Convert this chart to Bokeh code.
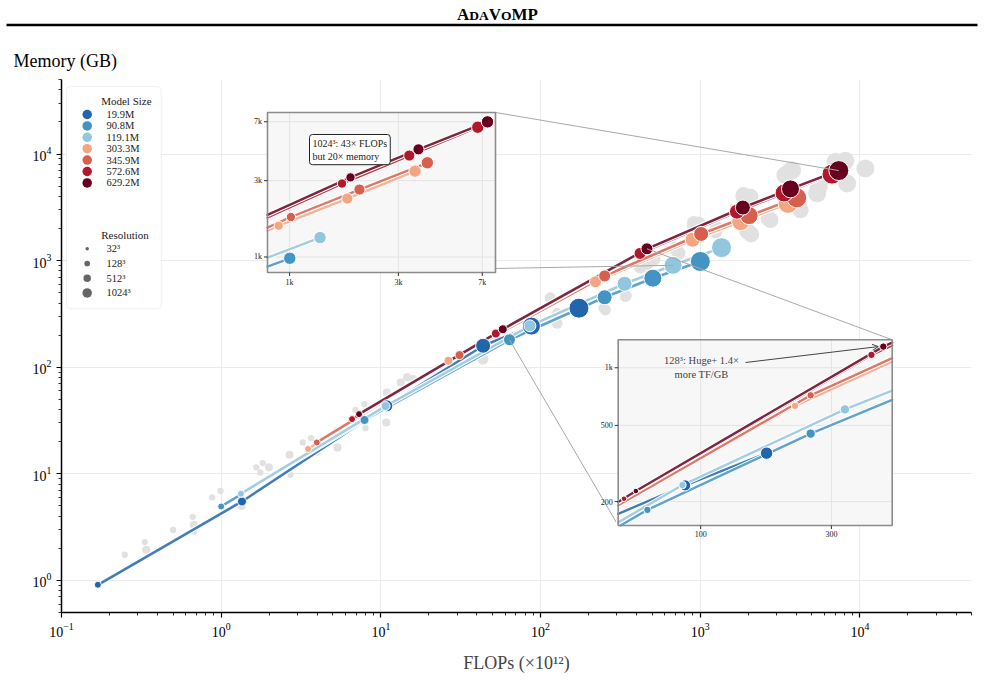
import math
from bokeh.plotting import figure
from bokeh.layouts import column
from bokeh.models import Range1d, LogScale, LinearScale, BoxAnnotation, Label, Arrow, OpenHead
from bokeh.core.properties import value
from bokeh.embed import file_html
from bokeh.resources import INLINE

# ---------------- data ----------------
model_sizes = ["19.9M", "90.8M", "119.1M", "303.3M", "345.9M", "572.6M", "629.2M"]
resolutions = [32, 64, 128, 256, 512, 1024]

flops_19_9M = [0.169, 1.35, 10.9, 43.7, 87.7, 174]
mem_19_9M = [0.91, 5.5, 43.4, 159, 243, 358]
flops_90_8M = [1.0, 7.9, 63.9, 252, 505, 1002]
mem_90_8M = [4.94, 32, 181, 453, 684, 982]
flops_119_1M = [1.33, 10.7, 85.8, 336, 676, 1360]
mem_119_1M = [6.5, 43.2, 244, 606, 903, 1322]
flops_303_3M = [3.5, 26.5, 221, 896, 1792, 3550]
mem_303_3M = [17.1, 115, 633, 1570, 2320, 3443]
flops_345_9M = [3.97, 31.1, 252, 1013, 2025, 4020]
mem_345_9M = [19.7, 130, 718, 1778, 2640, 3880]
flops_572_6M = [6.6, 52.5, 420, 1698, 3350, 6690]
mem_572_6M = [32.6, 207, 1168, 2878, 4306, 6475]
flops_629_2M = [7.3, 58, 464, 1850, 3676, 7380]
mem_629_2M = [36.3, 227, 1290, 3145, 4707, 6990]

# background (other configurations), drawn in light grey
other_flops = [0.249, 0.332, 0.339, 0.50, 0.664, 0.674, 0.674, 0.878, 0.99, 1.34,
               1.66, 1.82, 1.99, 1.76, 2.68, 2.72, 3.24, 3.66, 3.99, 5.35,
               5.27, 6.93, 7.89, 8.01, 10.8, 10.9, 13.3, 14.6, 16.0, 43.7,
               115, 127, 127, 249, 345, 255, 340, 422, 465, 511,
               700, 733, 910, 979, 910, 1276, 1245, 1968, 2084, 1871,
               1871, 2063, 2752, 2684, 4140, 4250, 3415, 3760, 3707, 5400,
               5530, 7030, 8110, 8320, 10820]
other_mem = [1.74, 2.29, 1.94, 2.97, 3.95, 3.33, 2.88, 6.0, 6.9, 5.0,
             11.5, 12.6, 11.5, 10.3, 15.1, 9.8, 19.7, 21.6, 15.8, 17.6,
             25.8, 39.8, 45.0, 26.8, 30.3, 57.8, 71.8, 80.5, 77.3, 119,
             450, 321, 258, 357, 469, 344, 459, 877, 944, 1028,
             1303, 1170, 2265, 2240, 2080, 2010, 1866, 1905, 1762, 4120,
             3970, 3970, 2404, 2490, 3200, 2970, 6340, 7060, 6970, 4275,
             4930, 8450, 8630, 5300, 7330]
other_res = [32, 32, 64, 32, 32, 64, 32, 32, 32, 64,
             32, 32, 64, 32, 64, 32, 32, 32, 32, 64,
             32, 32, 32, 32, 64, 64, 64, 64, 64, 128,
             128, 128, 128, 128, 128, 128, 128, 256, 256, 256,
             256, 256, 256, 256, 256, 256, 256, 512, 512, 512,
             512, 512, 512, 512, 512, 512, 1024, 1024, 1024, 1024,
             1024, 1024, 1024, 1024, 1024]

legend_res = [32, 128, 512, 1024]
legend_res_labels = ["32³", "128³", "512³", "1024³"]

inset1_xticks = [1000, 3000, 7000]
inset1_xlabels = ["1k", "3k", "7k"]
inset1_yticks = [1000, 3000, 7000]
inset1_ylabels = ["1k", "3k", "7k"]
inset2_xticks = [100, 300]
inset2_xlabels = ["100", "300"]
inset2_yticks = [200, 500, 1000]
inset2_ylabels = ["200", "500", "1k"]

title_pieces = ["A", "DA", "V", "O", "MP"]      # small-caps rendering of "AdaVoMP"
y_title = "Memory (GB)"
x_title = "FLOPs (×10¹²)"
inset1_note = "1024³: 43× FLOPs\nbut 20× memory"
inset2_note = "128³: Huge+ 1.4×\nmore TF/GB"

# ---------------- style / layout ----------------
FONT = "Liberation Serif"
COLORS = ["#2166ac", "#4393c3", "#92c5de", "#f4a582", "#d6604d", "#b2182b", "#67001f"]
SIZE_MAIN = {32: 7, 64: 9, 128: 12, 256: 15, 512: 18, 1024: 20}
GREY_SCALE = 0.9
INSET_SCALE = 0.62
LEGEND_RES_SIZE = {32: 3.5, 128: 5.7, 512: 7.5, 1024: 9.5}

W, H = 985, 695
HEADER_H = 79
FL, FT, FW, FH = 61, 79, 910, 533          # frame in page pixels
MAIN_H = H - HEADER_H
X_LIM = (0.1, 5e4)
Y_LIM = (0.5, 5e4)
INSET1_BOX = (267, 112, 495, 272)           # left, top, right, bottom (page px)
INSET1_LIM = ((800, 8000), (800, 8000))
INSET2_BOX = (617.7, 339.3, 891.7, 525)
INSET2_LIM = ((50, 500), (150, 1400))

flops = [flops_19_9M, flops_90_8M, flops_119_1M, flops_303_3M, flops_345_9M, flops_572_6M, flops_629_2M]
mems = [mem_19_9M, mem_90_8M, mem_119_1M, mem_303_3M, mem_345_9M, mem_572_6M, mem_629_2M]

# ---------------- header figure ----------------
h = figure(width=W, height=HEADER_H, x_range=Range1d(0, W), y_range=Range1d(HEADER_H, 0),
           min_border=0, min_border_left=0, min_border_right=0, min_border_top=0, min_border_bottom=0,
           x_axis_location=None, y_axis_location=None,
           output_backend="svg", toolbar_location=None)
h.grid.visible = False
h.outline_line_color = None
big, small = 17, 13.5
TITLE_BASE = 19.5
sizes = [big, small, big, small, big]
adv = {"A": 0.722, "D": 0.722, "V": 0.722, "O": 0.778, "M": 0.944, "P": 0.611}
widths = [sum(adv[c] for c in t) * s for t, s in zip(title_pieces, sizes)]
xpos = 497 - sum(widths) / 2
for t, s, w in zip(title_pieces, sizes, widths):
    h.text(x=[xpos], y=[TITLE_BASE - 0.3 * s], text=[t], text_font=value(FONT), text_font_size=f"{s}px",
           text_font_style="bold", text_baseline="middle", text_align="left", text_color="black")
    xpos += w
h.segment(x0=[6], y0=[24.6], x1=[977], y1=[24.6], line_color="black", line_width=2.5)
h.text(x=[13], y=[60], text=[y_title], text_font=value(FONT), text_font_size="18px",
       text_baseline="middle", text_align="left", text_color="black")

# ---------------- main figure ----------------
p = figure(width=W, height=MAIN_H, x_axis_type="log", y_axis_type="log",
           x_range=Range1d(*X_LIM), y_range=Range1d(*Y_LIM),
           min_border_left=FL, min_border_right=W - FL - FW, min_border_top=0,
           min_border_bottom=MAIN_H - FH, output_backend="svg", toolbar_location=None)
for fig in (h, p):
    try:
        fig.frame_align = False
    except Exception:
        pass
p.outline_line_color = None
p.grid.grid_line_color = "#ebebeb"
p.grid.grid_line_width = 1
for ax in (p.xaxis, p.yaxis):
    ax.axis_line_width = 1.5
    ax.axis_line_color = "black"
    ax.major_tick_line_width = 1.2
    ax.minor_tick_line_width = 0.8
    ax.major_tick_out = 5
    ax.major_tick_in = 0
    ax.minor_tick_out = 3
    ax.minor_tick_in = 0
    ax.major_label_text_font = FONT
    ax.major_label_text_font_size = "14px"
    ax.major_label_text_color = "black"
p.xaxis.axis_label = x_title
p.xaxis.axis_label_text_font = FONT
p.xaxis.axis_label_text_font_size = "18px"
p.xaxis.axis_label_text_font_style = "normal"
p.xaxis.axis_label_standoff = 13

# pixel coordinate system relative to the frame's top-left (x right, y down)
p.extra_x_ranges["px"] = Range1d(0, FW)
p.extra_x_scales["px"] = LinearScale()
p.extra_y_ranges["px"] = Range1d(FH, 0)
p.extra_y_scales["px"] = LinearScale()
PX = dict(x_range_name="px", y_range_name="px")


def page_to_main(px, py):
    lx0, lx1 = math.log10(X_LIM[0]), math.log10(X_LIM[1])
    ly0, ly1 = math.log10(Y_LIM[0]), math.log10(Y_LIM[1])
    return (10 ** (lx0 + (px - FL) / FW * (lx1 - lx0)),
            10 ** (ly0 + (FT + FH - py) / FH * (ly1 - ly0)))


def make_inset(name, box, lims):
    l, t, r, b = box
    (xa, xb), (ya, yb) = lims
    u0, u1 = l - FL, r - FL
    w0, w1 = FT + FH - b, FT + FH - t
    lx0, lx1 = math.log10(xa), math.log10(xb)
    ly0, ly1 = math.log10(ya), math.log10(yb)
    kx = (lx1 - lx0) / (u1 - u0)
    ky = (ly1 - ly0) / (w1 - w0)
    p.extra_x_ranges[name + "x"] = Range1d(10 ** (lx0 - u0 * kx), 10 ** (lx1 + (FW - u1) * kx))
    p.extra_x_scales[name + "x"] = LogScale()
    p.extra_y_ranges[name + "y"] = Range1d(10 ** (ly0 - w0 * ky), 10 ** (ly1 + (FH - w1) * ky))
    p.extra_y_scales[name + "y"] = LogScale()

    def to_px(xv, yv):
        X = u0 + (math.log10(xv) - lx0) / kx
        Y = FH - (w0 + (math.log10(yv) - ly0) / ky)
        return X, Y
    return dict(xr=name + "x", yr=name + "y", xlim=(xa, xb), ylim=(ya, yb), to_px=to_px, box=box)


def clip_poly(xs, ys, xlim, ylim):
    lx = [math.log10(v) for v in xs]
    ly = [math.log10(v) for v in ys]
    x0, x1 = math.log10(xlim[0]), math.log10(xlim[1])
    y0, y1 = math.log10(ylim[0]), math.log10(ylim[1])
    sx, sy = [], []
    for i in range(len(xs) - 1):
        ax_, ay_, bx_, by_ = lx[i], ly[i], lx[i + 1], ly[i + 1]
        dx, dy = bx_ - ax_, by_ - ay_
        t0, t1, ok = 0.0, 1.0, True
        for pp, qq in ((-dx, ax_ - x0), (dx, x1 - ax_), (-dy, ay_ - y0), (dy, y1 - ay_)):
            if pp == 0:
                if qq < 0:
                    ok = False
                    break
            else:
                rr = qq / pp
                if pp < 0:
                    t0 = max(t0, rr)
                else:
                    t1 = min(t1, rr)
        if ok and t0 < t1:
            sx.append([10 ** (ax_ + t0 * dx), 10 ** (ax_ + t1 * dx)])
            sy.append([10 ** (ay_ + t0 * dy), 10 ** (ay_ + t1 * dy)])
    return sx, sy


# background points
p.scatter(other_flops, other_mem, size=[SIZE_MAIN[r] * GREY_SCALE for r in other_res],
          fill_color="#e1e1e1", line_color=None)

# series lines then points
for fx, my, col in zip(flops, mems, COLORS):
    p.line(fx, my, line_color="white", line_width=4.8, line_join="round", line_cap="round")
    p.line(fx, my, line_color=col, line_width=2.6, line_alpha=0.85, line_join="round", line_cap="round")
for fx, my, col in zip(flops, mems, COLORS):
    p.scatter(fx, my, size=[SIZE_MAIN[r] for r in resolutions], fill_color=col,
              line_color="white", line_width=1)

in1 = make_inset("in1", INSET1_BOX, INSET1_LIM)
in2 = make_inset("in2", INSET2_BOX, INSET2_LIM)

# connectors (from inset corners to highlighted points)
i512, i1024, i128 = resolutions.index(512), resolutions.index(1024), resolutions.index(128)
c_pts = [
    (page_to_main(INSET1_BOX[2], INSET1_BOX[1]), (flops_629_2M[i1024], mem_629_2M[i1024])),
    (page_to_main(INSET1_BOX[0], INSET1_BOX[3]), (flops_119_1M[i512], mem_119_1M[i512])),
    (page_to_main(INSET2_BOX[0], INSET2_BOX[3]), (flops_90_8M[i128], mem_90_8M[i128])),
    (page_to_main(INSET2_BOX[2], INSET2_BOX[1]), (flops_629_2M[i128], mem_629_2M[i128])),
]
p.segment(x0=[a[0] for a, b in c_pts], y0=[a[1] for a, b in c_pts],
          x1=[b[0] for a, b in c_pts], y1=[b[1] for a, b in c_pts],
          line_color="#a8a8a8", line_width=1)


def draw_inset(ins, xticks, xlabels, yticks, ylabels):
    xr, yr = ins["xr"], ins["yr"]
    (a, b), (c, d) = ins["xlim"], ins["ylim"]
    kw = dict(x_range_name=xr, y_range_name=yr)
    p.quad(left=[a], right=[b], bottom=[c], top=[d], fill_color="#f7f7f7", line_color=None, **kw)
    p.segment(x0=xticks, y0=[c] * len(xticks), x1=xticks, y1=[d] * len(xticks),
              line_color="#e3e3e3", line_width=1, **kw)
    p.segment(x0=[a] * len(yticks), y0=yticks, x1=[b] * len(yticks), y1=yticks,
              line_color="#e3e3e3", line_width=1, **kw)
    for fx, my, col in zip(flops, mems, COLORS):
        sx, sy = clip_poly(fx, my, (a, b), (c, d))
        if sx:
            p.multi_line(sx, sy, line_color="white", line_width=4.4, line_cap="round", **kw)
            p.multi_line(sx, sy, line_color=col, line_width=2.4, line_alpha=0.85, line_cap="round", **kw)
    for fx, my, col in zip(flops, mems, COLORS):
        idx = [i for i in range(len(fx)) if a <= fx[i] <= b and c <= my[i] <= d]
        if idx:
            p.scatter([fx[i] for i in idx], [my[i] for i in idx],
                      size=[SIZE_MAIN[resolutions[i]] * INSET_SCALE for i in idx],
                      fill_color=col, line_color="white", line_width=1, **kw)
    p.quad(left=[a], right=[b], bottom=[c], top=[d], fill_color=None,
           line_color="#8c8c8c", line_width=1.6, **kw)
    # ticks and labels in frame-pixel space
    to_px = ins["to_px"]
    bx = [to_px(t, c) for t in xticks]
    p.segment(x0=[q[0] for q in bx], y0=[q[1] for q in bx], x1=[q[0] for q in bx],
              y1=[q[1] + 3.5 for q in bx], line_color="#333333", line_width=1, **PX)
    p.text(x=[q[0] for q in bx], y=[q[1] + 5.5 for q in bx], text=xlabels,
           text_font=value(FONT), text_font_size="8px", text_align="center", text_baseline="top",
           text_color="#222222", **PX)
    ly = [to_px(a, t) for t in yticks]
    p.segment(x0=[q[0] - 3.5 for q in ly], y0=[q[1] for q in ly], x1=[q[0] for q in ly],
              y1=[q[1] for q in ly], line_color="#333333", line_width=1, **PX)
    p.text(x=[q[0] - 5.5 for q in ly], y=[q[1] for q in ly], text=ylabels,
           text_font=value(FONT), text_font_size="8px", text_align="right", text_baseline="middle",
           text_color="#222222", **PX)


draw_inset(in1, inset1_xticks, inset1_xlabels, inset1_yticks, inset1_ylabels)
draw_inset(in2, inset2_xticks, inset2_xlabels, inset2_yticks, inset2_ylabels)

# inset annotations
p.add_layout(Label(x=309 - FL, y=134 - FT, text=inset1_note, text_font=FONT, text_font_size="10px",
                   text_color="#222222", text_align="left", text_baseline="top", padding=3,
                   border_radius=3, background_fill_color="white", border_line_color="#222222",
                   border_line_width=1, **PX))
p.add_layout(Label(x=701 - FL, y=367 - FT, text=inset2_note, text_font=FONT, text_font_size="10.5px",
                   text_color="#444444", text_align="center", text_baseline="middle", **PX))
tx, ty = in2["to_px"](flops_629_2M[i128], mem_629_2M[i128])
p.add_layout(Arrow(x_start=745 - FL, y_start=362 - FT, x_end=tx - 5, y_end=ty,
                   line_color="#444444", line_width=1,
                   end=OpenHead(size=6, line_color="#444444", line_width=1), **PX))

# legend (drawn in frame-pixel space)
p.add_layout(BoxAnnotation(left=66 - FL, right=160.7 - FL, top=86 - FT, bottom=308.3 - FT,
                           level="underlay", fill_color="white", fill_alpha=0.9,
                           line_color="#cfcfcf", line_width=1, border_radius=4, **PX))
mx, lx_, hx = 86.7 - FL, 106 - FL, 100.7 - FL
rows_m = [114 - FT + i * 11.4 for i in range(len(model_sizes))]
rows_r = [248.3 - FT + i * 14.7 for i in range(len(legend_res))]
p.text(x=[hx, hx], y=[100 - FT, 234 - FT], text=["Model Size", "Resolution"],
       text_font=value(FONT), text_font_size="11px", text_baseline="middle", text_align="left",
       text_color="#222222", **PX)
p.scatter(x=[mx] * len(model_sizes), y=rows_m, size=9.5, fill_color=COLORS, line_color=None, **PX)
p.text(x=[lx_] * len(model_sizes), y=rows_m, text=model_sizes, text_font=value(FONT),
       text_font_size="10.5px", text_baseline="middle", text_align="left", text_color="#222222", **PX)
p.scatter(x=[mx] * len(legend_res), y=rows_r, size=[LEGEND_RES_SIZE[r] for r in legend_res],
          fill_color="#666666", line_color=None, **PX)
p.text(x=[lx_] * len(legend_res), y=rows_r, text=legend_res_labels, text_font=value(FONT),
       text_font_size="10.5px", text_baseline="middle", text_align="left", text_color="#222222", **PX)

layout = column(h, p)
open("out.html", "w").write(file_html(layout, INLINE))
